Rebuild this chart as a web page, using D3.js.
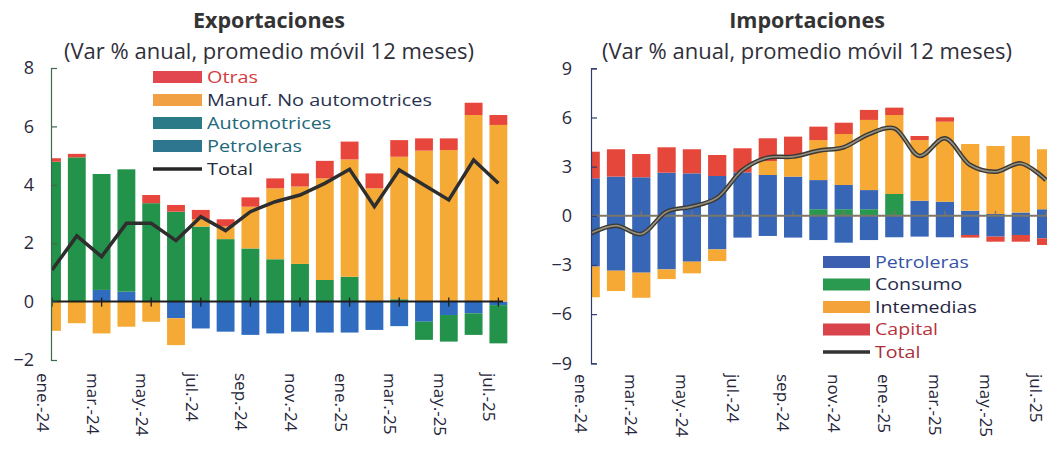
<!DOCTYPE html>
<html>
<head>
<meta charset="utf-8">
<script src="https://cdn.jsdelivr.net/npm/d3@7"></script>
<style>
  html, body { margin: 0; padding: 0; background: #fff; }
  svg { display: block; font-family: "Open Sans", "Noto Sans", sans-serif; }
</style>
</head>
<body>
<svg id="chart" width="1047" height="450"></svg>
<script>
// Months shown (moving 12-month average, annual % change)
const meses = ["ene.-24","feb.-24","mar.-24","abr.-24","may.-24","jun.-24","jul.-24","ago.-24",
  "sep.-24","oct.-24","nov.-24","dic.-24","ene.-25","feb.-25","mar.-25","abr.-25","may.-25","jun.-25","jul.-25"];
const etiquetasX = ["ene.-24","mar.-24","may.-24","jul.-24","sep.-24","nov.-24","ene.-25","mar.-25","may.-25","jul.-25"];

// Exportaciones: contributions by component
const expPetroleras   = [0, 0, 0.40, 0.34, 0, -0.57, -0.92, -1.03, -1.14, -1.09, -1.03, -1.06, -1.06, -0.97, -0.84, -0.69, -0.46, -0.40, -0.12];
const expAutomotrices = [4.79, 4.94, 3.97, 4.19, 3.37, 3.08, 2.57, 2.14, 1.82, 1.45, 1.29, 0.74, 0.85, 0, 0.08, -0.62, -0.91, -0.74, -1.31];
const expManuf        = [-1.00, -0.74, -1.09, -0.86, -0.69, -0.92, 0.25, 0.43, 1.43, 2.43, 2.65, 3.48, 4.02, 3.88, 4.88, 5.17, 5.19, 6.39, 6.05];
const expOtras        = [0.12, 0.12, 0, 0, 0.28, 0.23, 0.32, 0.25, 0.32, 0.34, 0.45, 0.60, 0.61, 0.51, 0.57, 0.42, 0.40, 0.42, 0.34];
const expTotal        = [1.08, 2.25, 1.54, 2.68, 2.68, 2.09, 2.91, 2.43, 3.08, 3.42, 3.65, 4.05, 4.53, 3.25, 4.51, 3.99, 3.48, 4.85, 4.05];
const expTicks = [-2, 0, 2, 4, 6, 8];

// Importaciones: contributions by component
const impConsumo        = [0, 0, 0, 0, 0, 0, 0, 0, 0, 0.40, 0.40, 0.40, 1.33, 0, 0, 0, 0, 0, 0];
const impPetrolerasPos  = [2.29, 2.39, 2.35, 2.63, 2.59, 2.43, 2.65, 2.49, 2.39, 1.78, 1.48, 1.17, 0, 0.92, 0.86, 0.31, 0.11, 0.20, 0.40];
const impPetrolerasNeg  = [-3.10, -3.35, -3.47, -3.27, -2.80, -2.05, -1.33, -1.23, -1.33, -1.48, -1.64, -1.48, -1.31, -1.27, -1.31, -1.17, -1.27, -1.17, -1.37];
const impIntermedias    = [-1.87, -1.24, -1.53, -0.59, -0.71, -0.71, 0, 0.85, 1.22, 2.44, 3.11, 4.28, 4.82, 3.70, 4.88, 4.07, 4.15, 4.67, 3.66];
const impCapital        = [1.62, 1.67, 1.42, 1.55, 1.47, 1.28, 1.47, 1.39, 1.22, 0.82, 0.69, 0.61, 0.45, 0.25, 0.27, -0.16, -0.31, -0.41, -0.41];
const impTotal          = [-1.07, -0.60, -1.11, 0.25, 0.56, 1.10, 2.79, 3.55, 3.61, 3.97, 4.18, 4.99, 5.34, 3.65, 4.73, 3.10, 2.69, 3.20, 2.18];
const impTicks = [-9, -6, -3, 0, 3, 6, 9];

const svg = d3.select("#chart");

function drawPanel(cfg) {
  const g = svg.append("g");
  const rows = meses.map((m, i) => {
    const r = { mes: m };
    cfg.series.forEach(s => { r[s.key] = s.values[i]; });
    return r;
  });
  const x = d3.scaleBand().domain(meses).range(cfg.xRange).paddingInner(0.28).paddingOuter(0.14);
  const y = d3.scaleLinear().domain(cfg.yDomain).range(cfg.yRange);
  const stack = d3.stack().keys(cfg.series.map(s => s.key)).offset(d3.stackOffsetDiverging);
  const layers = stack(rows);
  const colorOf = Object.fromEntries(cfg.series.map(s => [s.key, s.color]));

  const clipId = "clip-" + cfg.id;
  svg.append("clipPath").attr("id", clipId).append("rect")
    .attr("x", cfg.axisX).attr("y", 0).attr("width", 1047 - cfg.axisX).attr("height", 450);

  const plot = g.append("g").attr("clip-path", `url(#${clipId})`);
  plot.selectAll("g.layer").data(layers).join("g").attr("class", "layer")
    .attr("fill", d => colorOf[d.key])
    .selectAll("rect").data(d => d).join("rect")
    .attr("x", d => x(d.data.mes))
    .attr("width", x.bandwidth())
    .attr("y", d => y(Math.max(d[0], d[1])))
    .attr("height", d => Math.abs(y(d[0]) - y(d[1])));

  // zero line
  const bw = x.bandwidth();
  plot.append("line")
    .attr("x1", cfg.axisX).attr("x2", cfg.zeroEnd)
    .attr("y1", y(0)).attr("y2", y(0))
    .attr("stroke", cfg.zeroColor).attr("stroke-width", 2);

  const xAxis = (cfg.ticksUp ? d3.axisTop(x) : d3.axisBottom(x))
    .tickValues(etiquetasX).tickFormat("").tickSizeInner(5).tickSizeOuter(0);
  const xa = plot.append("g").attr("transform", `translate(0,${y(0)})`).call(xAxis);
  xa.select(".domain").remove();
  xa.selectAll(".tick line").attr("stroke", cfg.zeroColor).attr("stroke-width", 1.3);
  if (!cfg.ticksUp) xa.selectAll(".tick line").attr("y1", -4).attr("y2", 5);

  // total line
  const line = d3.line()
    .x((d, i) => x(meses[i]) + bw / 2)
    .y(d => y(d))
    .curve(cfg.smooth ? d3.curveCatmullRom.alpha(0.5) : d3.curveLinear);
  if (cfg.smooth) {
    plot.append("path").datum(cfg.total).attr("d", line)
      .attr("fill", "none").attr("stroke", "#3a3934").attr("stroke-width", 4.5).attr("stroke-linejoin", "round");
    plot.append("path").datum(cfg.total).attr("d", line)
      .attr("fill", "none").attr("stroke", "#958f80").attr("stroke-width", 1.6).attr("stroke-linejoin", "round");
  } else {
    plot.append("path").datum(cfg.total).attr("d", line)
      .attr("fill", "none").attr("stroke", "#2e2e2e").attr("stroke-width", 3.5).attr("stroke-linejoin", "miter");
  }

  // y axis with inward ticks
  const yAxis = d3.axisLeft(y).tickValues(cfg.yTicks).tickSizeInner(-6).tickSizeOuter(-6).tickPadding(cfg.tickPad);
  const ya = g.append("g").attr("transform", `translate(${cfg.axisX},0)`).call(yAxis);
  ya.select(".domain").attr("stroke", cfg.axisColor).attr("stroke-width", 1.2);
  ya.selectAll(".tick line").attr("stroke", cfg.axisColor).attr("stroke-width", 1.2);
  ya.selectAll(".tick text").attr("font-size", 18).attr("fill", "#2a2a40")
    .attr("font-family", "Open Sans, sans-serif");

  // rotated month labels
  g.append("g").selectAll("text").data(etiquetasX).join("text")
    .attr("transform", d => `translate(${x(d) + bw / 2 - cfg.labelShift},${cfg.labelTop}) rotate(90)`)
    .attr("dy", "0.35em")
    .attr("text-anchor", "start")
    .attr("font-size", 17)
    .attr("fill", "#26263a")
    .text(d => d);

  // titles
  g.append("text").attr("x", cfg.titleX).attr("y", 28).attr("text-anchor", "middle")
    .attr("font-size", 21.5).attr("font-weight", "bold").attr("fill", "#333")
    .text(cfg.title);
  g.append("text").attr("x", cfg.titleX).attr("y", 59).attr("text-anchor", "middle")
    .attr("font-size", 22).attr("fill", "#2f2f3a")
    .text("(Var % anual, promedio móvil 12 meses)");

  // legend (text set slightly wide so rows stay compact)
  const lg = g.append("g");
  cfg.legend.forEach(it => {
    if (it.line) {
      lg.append("line").attr("x1", cfg.legendX).attr("x2", cfg.legendX + cfg.swatchW)
        .attr("y1", it.y).attr("y2", it.y).attr("stroke", it.color).attr("stroke-width", 3.5);
    } else {
      lg.append("rect").attr("x", cfg.legendX).attr("y", it.y - 6)
        .attr("width", cfg.swatchW).attr("height", 12).attr("fill", it.color);
    }
    lg.append("text")
      .attr("transform", `translate(${cfg.legendX + cfg.swatchW + 5},${it.y}) scale(1.21,1)`)
      .attr("dy", "0.35em").attr("font-size", cfg.legendFont).attr("fill", it.textColor).text(it.label);
  });
}

drawPanel({
  id: "exp",
  title: "Exportaciones",
  titleX: 269,
  xRange: [39.6, 39.6 + 19 * 24.8],
  axisX: 51,
  zeroEnd: 503,
  zeroColor: "#1e1e1e",
  axisColor: "#3b6a4c",
  ticksUp: false,
  yDomain: [-2, 8],
  yRange: [360, 68],
  yTicks: expTicks,
  tickPad: 17,
  labelShift: 9,
  labelTop: 373,
  smooth: false,
  total: expTotal,
  series: [
    { key: "Petroleras", values: expPetroleras, color: "#2f6cc0" },
    { key: "Automotrices", values: expAutomotrices, color: "#23924b" },
    { key: "Manuf", values: expManuf, color: "#f5aa36" },
    { key: "Otras", values: expOtras, color: "#e8463c" }
  ],
  legendX: 153,
  swatchW: 49,
  legendFont: 16.4,
  legend: [
    { label: "Otras", y: 77, color: "#e2474f", textColor: "#d53a42" },
    { label: "Manuf. No automotrices", y: 100, color: "#f1a043", textColor: "#28324e" },
    { label: "Automotrices", y: 123, color: "#2b7a88", textColor: "#22687a" },
    { label: "Petroleras", y: 146, color: "#2e7590", textColor: "#22687a" },
    { label: "Total", y: 169, color: "#262626", textColor: "#262a3a", line: true }
  ]
});

drawPanel({
  id: "imp",
  title: "Importaciones",
  titleX: 807,
  xRange: [578.05, 578.05 + 19 * 25.3],
  axisX: 591,
  zeroEnd: 1047,
  zeroColor: "#7d776a",
  axisColor: "#2f3d6e",
  ticksUp: true,
  yDomain: [-9, 9],
  yRange: [363.3, 68.3],
  yTicks: impTicks,
  tickPad: 19,
  labelShift: 10,
  labelTop: 374,
  smooth: true,
  total: impTotal,
  series: [
    { key: "Consumo", values: impConsumo, color: "#27984e" },
    { key: "PetrolerasPos", values: impPetrolerasPos, color: "#3766b6" },
    { key: "PetrolerasNeg", values: impPetrolerasNeg, color: "#3766b6" },
    { key: "Intermedias", values: impIntermedias, color: "#f6a935" },
    { key: "Capital", values: impCapital, color: "#e6473b" }
  ],
  legendX: 823,
  swatchW: 47,
  legendFont: 16.2,
  legend: [
    { label: "Petroleras", y: 262, color: "#3c5fb2", textColor: "#3453a8" },
    { label: "Consumo", y: 284.5, color: "#2a9a50", textColor: "#252d4d" },
    { label: "Intemedias", y: 307, color: "#f4a23a", textColor: "#252540" },
    { label: "Capital", y: 329.5, color: "#d8434c", textColor: "#b8323a" },
    { label: "Total", y: 352, color: "#333", textColor: "#a83038", line: true }
  ]
});
</script>
</body>
</html>
